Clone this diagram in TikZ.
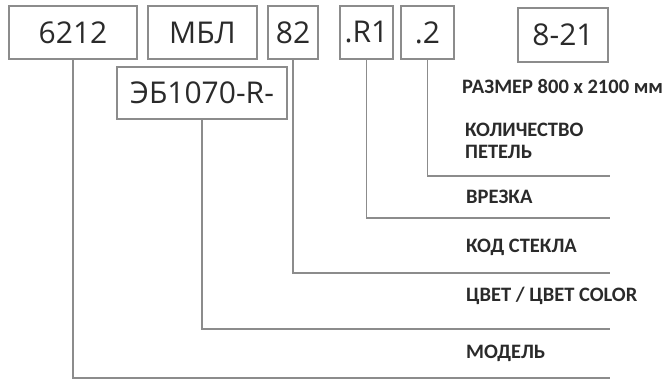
\documentclass[tikz,border=0pt]{standalone}
\usepackage{fontspec}
\setmainfont{Carlito}
\newfontfamily\codefont{Open Sans}
\usetikzlibrary{positioning}

\definecolor{linegray}{HTML}{8C8C8C}
\definecolor{txtgray}{HTML}{2A2A2A}

\tikzset{
  codebox/.style={draw=linegray,line width=1.2pt,inner sep=0pt,minimum height=53pt,
                  text=txtgray,font=\codefont\fontsize{30}{36}\selectfont},
  lbl/.style={anchor=base west,inner sep=0pt,align=left,text=txtgray,
              font=\bfseries\fontsize{20.5}{22}\selectfont},
  lead/.style={draw=linegray,line width=1.2pt}
}

\begin{document}
\begin{tikzpicture}[x=1pt,y=-1pt]
    \useasboundingbox (0,0) rectangle (665,380);

    % code boxes
    \node[codebox,minimum width=128pt] (model) at (73,32.5) {6212};
    \node[codebox,minimum width=109pt] (series) at (202.5,32.5) {МБЛ};
    \node[codebox,minimum width=50pt] (glass) at (293,32.5) {82};
    \node[codebox,minimum width=53pt] (cut) at (366.5,32.5) {.R1};
    \node[codebox,minimum width=53pt] (hinges) at (427.5,32.5) {.2};
    \node[codebox,minimum width=90pt,minimum height=54pt] (size) at (563,35) {8-21};
    \node[codebox,minimum width=170pt,minimum height=52pt] (color) at (202,93) {ЭБ1070-R-};

    % labels
    \node[lbl] (sizelbl) at (462,93.5) {РАЗМЕР 800 x 2100 мм};
    \node[lbl] (hingeslbl) at (465,158.5) {КОЛИЧЕСТВО\\ПЕТЕЛЬ};
    \node[lbl] (cutlbl) at (466,203.5) {ВРЕЗКА};
    \node[lbl] (glasslbl) at (466,252.5) {КОД СТЕКЛА};
    \node[lbl] (colorlbl) at (466,301.5) {ЦВЕТ / ЦВЕТ COLOR};
    \node[lbl] (modellbl) at (466,358.5) {МОДЕЛЬ};

    % leader lines
    \coordinate (hingesend) at (610,176);
    \coordinate (cutend) at (610,218);
    \coordinate (glassend) at (610,273);
    \coordinate (colorend) at (610,329);
    \coordinate (modelend) at (610,378);

    \draw[lead] (hinges.south) |- (hingesend);
    \draw[lead] (cut.south) |- (cutend);
    \draw[lead] (glass.south) |- (glassend);
    \draw[lead] (color.south) |- (colorend);
    \draw[lead] (model.south) |- (modelend);
\end{tikzpicture}
\end{document}
